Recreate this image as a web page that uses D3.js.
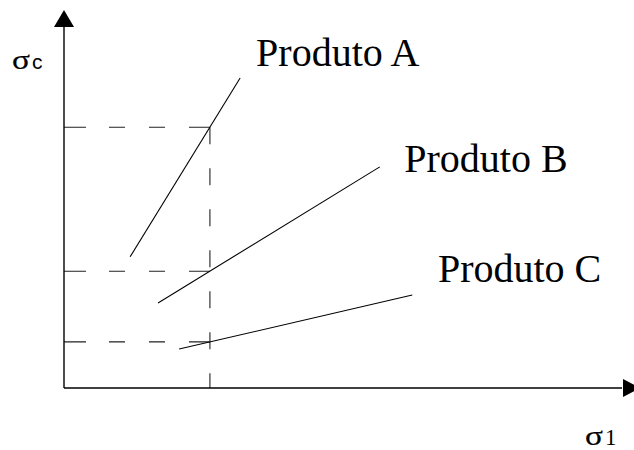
<!DOCTYPE html>
<html>
<head>
<meta charset="utf-8">
<script src="https://cdn.jsdelivr.net/npm/d3@7"></script>
<style>
  body { margin:0; background:#fff }
  svg { display:block }
</style>
</head>
<body>
<div id="chart"></div>
<script>
// data (arbitrary units, 0..100 on both axes)
var products   = ['Produto A', 'Produto B', 'Produto C']
var lineStarts = [ [11.6, 34.7], [16.5, 22.5], [20.2, 10.3] ]
var lineEnds   = [ [30.9, 82.0], [55.4, 58.5], [61.1, 24.6] ]
var sigma1     = 25.6                       // chosen σ1
var sigmaC     = [69.0, 30.9, 12.2]         // σc read for each product
var labelPos   = [ [33.7, 85.2], [59.7, 57.1], [65.6, 28.0] ]

var w = 634
var h = 450
var m = { top:10, right:0, bottom:62, left:64 }

var x = d3.scaleLinear().domain([0, 100]).range([m.left, w-m.right])
var y = d3.scaleLinear().domain([0, 100]).range([h-m.bottom, m.top])

var svg = d3.select('#chart').append('svg')
    .attr('width', w)
    .attr('height', h)

// dashed guides
var guides = svg.append('g')
    .attr('stroke', '#222')
    .attr('stroke-width', 1.1)
    .attr('fill', 'none')

guides.selectAll('line.h')
    .data(sigmaC)
    .enter().append('line')
    .attr('class', 'h')
    .attr('stroke-dasharray', '22,23,16,24,16,24,30')
    .attr('x1', x(0))
    .attr('x2', x(sigma1))
    .attr('y1', d=> y(d))
    .attr('y2', d=> y(d))

guides.append('line')
    .attr('stroke-dasharray', '17,24')
    .attr('x1', x(sigma1))
    .attr('x2', x(sigma1))
    .attr('y1', y(d3.max(sigmaC)))
    .attr('y2', y(0))

// product lines
svg.append('g')
    .attr('stroke', '#000')
    .attr('stroke-width', 1.1)
    .selectAll('line')
    .data(products)
    .enter().append('line')
    .attr('x1', (d,i)=> x(lineStarts[i][0]))
    .attr('y1', (d,i)=> y(lineStarts[i][1]))
    .attr('x2', (d,i)=> x(lineEnds[i][0]))
    .attr('y2', (d,i)=> y(lineEnds[i][1]))

// labels
svg.append('g')
    .attr('font-family', '"Liberation Serif", "Times New Roman", serif')
    .attr('font-size', 40)
    .attr('fill', '#000')
    .selectAll('text')
    .data(products)
    .enter().append('text')
    .attr('x', (d,i)=> x(labelPos[i][0]))
    .attr('y', (d,i)=> y(labelPos[i][1]))
    .text(d=> d)

// axes with arrowheads
var axes = svg.append('g')
axes.append('line')
    .attr('stroke', '#000').attr('stroke-width', 1.4)
    .attr('x1', x(0)).attr('y1', y(0))
    .attr('x2', x(0)).attr('y2', y(100) + 16)
axes.append('line')
    .attr('stroke', '#000').attr('stroke-width', 1.4)
    .attr('x1', x(0)).attr('y1', y(0))
    .attr('x2', x(100) - 12).attr('y2', y(0))

var ah = 17, aw = 10
axes.append('path')
    .attr('fill', '#000')
    .attr('d', 'M' + x(0) + ',' + y(100) +
               'L' + (x(0)+aw) + ',' + (y(100)+ah) +
               'L' + (x(0)-aw) + ',' + (y(100)+ah) + 'Z')
axes.append('path')
    .attr('fill', '#000')
    .attr('d', 'M' + (x(100)+6) + ',' + y(0) +
               'L' + (x(100)+6-ah) + ',' + (y(0)-9) +
               'L' + (x(100)+6-ah) + ',' + (y(0)+9) + 'Z')

// axis titles: wide sigma glyph followed by subscript letter
function sigmaTitle(px, py, sub, subFont, subSize) {
    var g = svg.append('g').attr('fill', '#000')
    g.append('text')
        .attr('x', px).attr('y', py)
        .attr('font-family', '"Liberation Serif", serif')
        .attr('font-size', 27)
        .attr('stroke', '#000')
        .attr('stroke-width', 0.2)
        .attr('textLength', 18)
        .attr('lengthAdjust', 'spacingAndGlyphs')
        .text('σ')
    g.append('text')
        .attr('x', px + 20).attr('y', py)
        .attr('font-family', subFont)
        .attr('font-size', subSize)
        .text(sub)
}
sigmaTitle(12, 69, 'c', '"Liberation Sans", Arial, sans-serif', 21)
sigmaTitle(585, 445, '1', '"Liberation Serif", serif', 23)
</script>
</body>
</html>
